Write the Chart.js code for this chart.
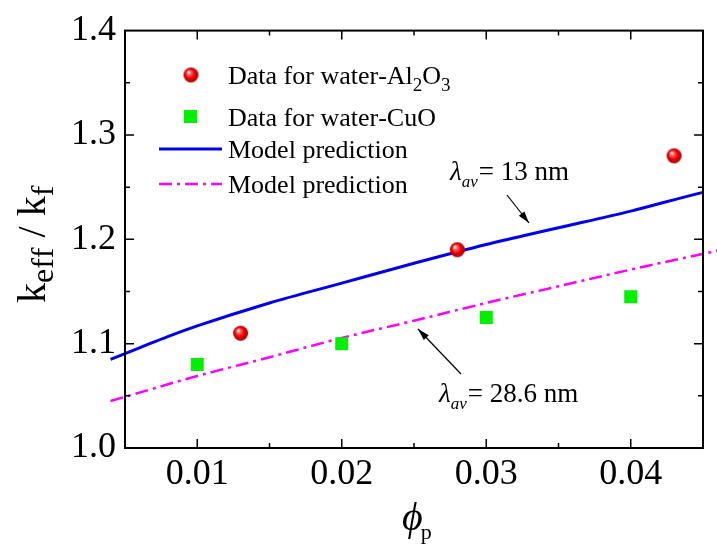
<!DOCTYPE html>
<html>
<head>
<meta charset="utf-8">
<script src="https://cdn.jsdelivr.net/npm/chart.js@4/dist/chart.umd.min.js"></script>
<style>
  html, body { margin: 0; padding: 0; background: #fff; }
  #c { display: block; }
</style>
</head>
<body>
<canvas id="c" width="717" height="544"></canvas>
<script>
// Data: keff/kf vs particle volume fraction
const al2o3X = [0.013, 0.028, 0.043];
const al2o3Y = [1.11, 1.19, 1.28];
const cuoX = [0.01, 0.02, 0.03, 0.04];
const cuoY = [1.08, 1.10, 1.125, 1.145];
// model, lambda_av = 13 nm
const model13X = [0.004, 0.006, 0.008, 0.01, 0.015, 0.02, 0.025, 0.03, 0.035, 0.04, 0.045, 0.046];
const model13Y = [1.085, 1.096, 1.107, 1.117, 1.139, 1.158, 1.177, 1.195, 1.211, 1.227, 1.245, 1.248];
// model, lambda_av = 28.6 nm
const model28X = [0.004, 0.01, 0.015, 0.02, 0.025, 0.03, 0.035, 0.04, 0.046];
const model28Y = [1.045, 1.069, 1.087, 1.1055, 1.122, 1.139, 1.155, 1.171, 1.189];

const seriesLabels = ['Data for water-Al_2O_3', 'Data for water-CuO', 'Model prediction', 'Model prediction'];
const xTicks = [0.01, 0.02, 0.03, 0.04];
const yTicks = [1.0, 1.1, 1.2, 1.3, 1.4];

const FONT = 'Liberation Serif';

function pts(xs, ys) {
    return xs.map((x, i) => ({ x: x, y: ys[i] }));
}

// shaded red ball used as point style
function sphere(r) {
    const c = document.createElement('canvas');
    c.width = c.height = 2 * r + 2;
    const g = c.getContext('2d');
    const cx = r + 1, cy = r + 1;
    const grd = g.createRadialGradient(cx - r * 0.35, cy - r * 0.4, r * 0.05, cx, cy, r);
    grd.addColorStop(0, '#ffffff');
    grd.addColorStop(0.25, '#ff6060');
    grd.addColorStop(0.6, '#f00000');
    grd.addColorStop(1, '#a00000');
    g.fillStyle = grd;
    g.beginPath();
    g.arc(cx, cy, r, 0, Math.PI * 2);
    g.fill();
    return c;
}
const ball = sphere(7.5);

// draws text where "_x" means subscript x
function richText(ctx, str, x, y, size, subSize, subDy, italic) {
    let cx = x;
    for (let i = 0; i < str.length; i++) {
        let ch = str[i];
        let sub = false;
        if (ch === '_' && i + 1 < str.length) { sub = true; ch = str[++i]; }
        ctx.font = (italic ? 'italic ' : '') + (sub ? subSize : size) + 'px ' + FONT;
        ctx.fillText(ch, cx, sub ? y + subDy : y);
        cx += ctx.measureText(ch).width;
    }
    return cx;
}

function arrow(ctx, x1, y1, x2, y2) {
    ctx.save();
    ctx.strokeStyle = '#000';
    ctx.fillStyle = '#000';
    ctx.lineWidth = 1.2;
    ctx.beginPath();
    ctx.moveTo(x1, y1);
    ctx.lineTo(x2, y2);
    ctx.stroke();
    const a = Math.atan2(y2 - y1, x2 - x1);
    const L = 12, W = 3.5;
    ctx.beginPath();
    ctx.moveTo(x2, y2);
    ctx.lineTo(x2 - L * Math.cos(a) + W * Math.sin(a), y2 - L * Math.sin(a) - W * Math.cos(a));
    ctx.lineTo(x2 - L * Math.cos(a) - W * Math.sin(a), y2 - L * Math.sin(a) + W * Math.cos(a));
    ctx.closePath();
    ctx.fill();
    ctx.restore();
}

const decorPlugin = {
    id: 'decor',
    afterDraw(chart) {
        const ctx = chart.ctx;
        const a = chart.chartArea;
        const xs = chart.scales.x, ys = chart.scales.y;
        ctx.save();

        // frame
        ctx.strokeStyle = '#000';
        ctx.lineWidth = 2;
        ctx.strokeRect(a.left, a.top, a.right - a.left, a.bottom - a.top);

        // inward ticks, major + minor halfway
        ctx.lineWidth = 1.5;
        const xMaj = xTicks, yMaj = yTicks;
        const xMin = [], yMin = [];
        for (let i = 0; i < xMaj.length; i++) xMin.push(xMaj[i] + 0.005);
        for (let i = 0; i < yMaj.length - 1; i++) yMin.push(yMaj[i] + 0.05);
        ctx.beginPath();
        xMaj.concat(xMin).forEach((v, i) => {
            const p = xs.getPixelForValue(v);
            if (p <= a.left + 1 || p >= a.right - 1) return;
            const len = i < xMaj.length ? 9 : 5;
            ctx.moveTo(p, a.bottom); ctx.lineTo(p, a.bottom - len);
            ctx.moveTo(p, a.top); ctx.lineTo(p, a.top + len);
        });
        yMaj.concat(yMin).forEach((v, i) => {
            const p = ys.getPixelForValue(v);
            if (p <= a.top + 1 || p >= a.bottom - 1) return;
            const len = i < yMaj.length ? 9 : 5;
            ctx.moveTo(a.left, p); ctx.lineTo(a.left + len, p);
            ctx.moveTo(a.right, p); ctx.lineTo(a.right - len, p);
        });
        ctx.stroke();

        // legend
        ctx.fillStyle = '#000';
        ctx.textBaseline = 'alphabetic';
        const rows = [75, 116.5, 149, 184];
        chart.data.datasets.forEach((ds, i) => {
            const y = rows[i];
            if (ds.showLine) {
                ctx.save();
                ctx.strokeStyle = ds.borderColor;
                ctx.lineWidth = ds.borderWidth;
                ctx.setLineDash(ds.borderDash || []);
                ctx.beginPath();
                ctx.moveTo(159, y); ctx.lineTo(222, y);
                ctx.stroke();
                ctx.restore();
            } else if (ds.pointStyle === 'rect') {
                ctx.fillStyle = ds.backgroundColor;
                ctx.fillRect(184, y - 6.5, 13, 13);
            } else {
                ctx.drawImage(ds.pointStyle, 191 - ball.width / 2, y - ball.height / 2);
            }
            ctx.fillStyle = '#000';
            richText(ctx, seriesLabels[i], 228, y + 9, 26, 19, 7, false);
        });

        // annotations
        let x = richText(ctx, 'λ', 450, 180, 27, 17, 7, true);
        x = richText(ctx, '_a_v', x, 180, 27, 17, 7, true);
        ctx.font = '27px ' + FONT;
        ctx.fillText('= 13 nm', x + 1, 180);
        arrow(ctx, 507, 195, 529, 223);

        x = richText(ctx, 'λ', 439, 402, 27, 17, 7, true);
        x = richText(ctx, '_a_v', x, 402, 27, 17, 7, true);
        ctx.font = '27px ' + FONT;
        ctx.fillText('= 28.6 nm', x + 1, 402);
        arrow(ctx, 461, 374, 418, 329);

        // y axis title
        ctx.save();
        ctx.translate(45, 303);
        ctx.rotate(-Math.PI / 2);
        richText(ctx, 'k_e_f_f / k_f', 0, 0, 40, 32, 8, false);
        ctx.restore();

        // x axis title
        x = richText(ctx, 'ϕ', 402, 530, 40, 22, 9, true);
        ctx.font = '22px ' + FONT;
        ctx.fillText('p', x - 2, 539);

        ctx.restore();
    }
};

new Chart(document.getElementById('c'), {
    type: 'scatter',
    data: {
        datasets: [
            {
                label: seriesLabels[0],
                data: pts(al2o3X, al2o3Y),
                pointStyle: ball,
                pointRadius: 7.5,
                order: 0
            },
            {
                label: seriesLabels[1],
                data: pts(cuoX, cuoY),
                pointStyle: 'rect',
                pointRadius: 9.2,
                backgroundColor: '#00f000',
                borderColor: '#00f000',
                pointBorderWidth: 0,
                order: 1
            },
            {
                label: seriesLabels[2],
                data: pts(model13X, model13Y),
                showLine: true,
                pointRadius: 0,
                borderColor: '#0000f0',
                borderWidth: 3,
                cubicInterpolationMode: 'monotone',
                clip: { left: 20, right: 20, top: 0, bottom: 0 },
                order: 2
            },
            {
                label: seriesLabels[3],
                data: pts(model28X, model28Y),
                showLine: true,
                pointRadius: 0,
                borderColor: '#ff00ff',
                borderWidth: 2.5,
                borderDash: [13, 5, 3, 5],
                cubicInterpolationMode: 'monotone',
                clip: { left: 20, right: 20, top: 0, bottom: 0 },
                order: 3
            }
        ]
    },
    options: {
        responsive: false,
        animation: false,
        devicePixelRatio: 1,
        layout: { padding: { top: 24, right: 14, left: 0, bottom: 0 } },
        plugins: {
            legend: { display: false },
            tooltip: { enabled: false }
        },
        scales: {
            x: {
                type: 'linear',
                min: 0.005,
                max: 0.045,
                grid: { display: false, drawTicks: false },
                border: { display: false },
                afterBuildTicks: s => { s.ticks = xTicks.map(v => ({ value: v })); },
                afterFit: s => { s.height = 96; },
                ticks: {
                    color: '#000',
                    padding: 5,
                    maxRotation: 0,
                    font: { family: FONT, size: 36 },
                    callback: v => v.toFixed(2)
                }
            },
            y: {
                type: 'linear',
                min: 1.0,
                max: 1.4,
                grid: { display: false, drawTicks: false },
                border: { display: false },
                afterBuildTicks: s => { s.ticks = yTicks.map(v => ({ value: v })); },
                afterFit: s => { s.width = 125; },
                ticks: {
                    color: '#000',
                    padding: 9,
                    font: { family: FONT, size: 36 },
                    callback: v => v.toFixed(1)
                }
            }
        }
    },
    plugins: [decorPlugin]
});
</script>
</body>
</html>
